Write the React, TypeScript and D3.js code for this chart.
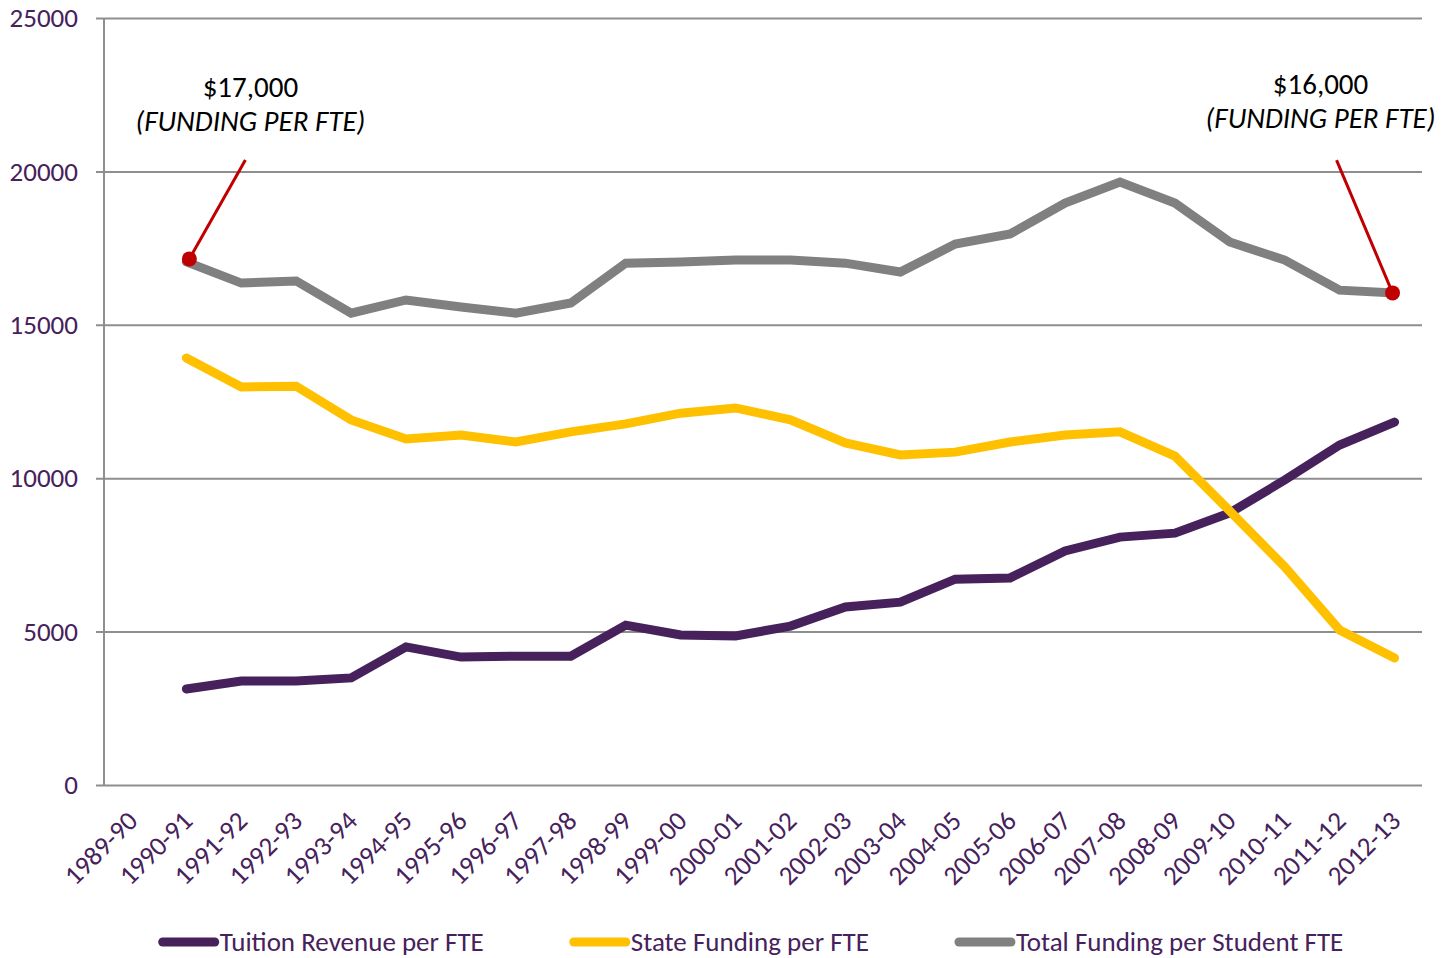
import React, { useRef, useEffect } from 'react';
import * as d3 from 'd3';

const years = [
  '1989-90', '1990-91', '1991-92', '1992-93', '1993-94', '1994-95', '1995-96', '1996-97',
  '1997-98', '1998-99', '1999-00', '2000-01', '2001-02', '2002-03', '2003-04', '2004-05',
  '2005-06', '2006-07', '2007-08', '2008-09', '2009-10', '2010-11', '2011-12', '2012-13',
];

// 1989-90 has no values
const tuition = [
  null, 3130, 3390, 3390, 3490, 4500, 4170, 4200, 4200, 5210, 4890, 4860,
  5180, 5800, 5960, 6710, 6750, 7630, 8080, 8210, 8870, 9940, 11080, 11830,
];
const stateFunding = [
  null, 13920, 12970, 13000, 11900, 11280, 11410, 11180, 11510, 11770, 12120, 12290,
  11900, 11150, 10760, 10850, 11180, 11410, 11510, 10720, 8930, 7110, 5050, 4140,
];
const totalFunding = [
  null, 17050, 16360, 16430, 15380, 15810, 15580, 15380, 15710, 17010, 17050, 17110,
  17110, 17010, 16720, 17630, 17960, 18970, 19650, 18970, 17700, 17110, 16130, 16040,
];

const yTicks = [0, 5000, 10000, 15000, 20000, 25000];

const seriesNames = ['Tuition Revenue per FTE', 'State Funding per FTE', 'Total Funding per Student FTE'];
const seriesColors = ['#46215b', '#ffc000', '#808080'];

const calloutYears = ['1990-91', '2012-13'];
const calloutAmounts = ['$17,000', '$16,000'];
const calloutNote = '(FUNDING PER FTE)';

const FONT = 'Carlito, Calibri, Lato, sans-serif';
const TEXT = '#46215b';
const AXIS = '#8e8e8e';

export default function App() {
  const svgRef = useRef<SVGSVGElement>(null);

  useEffect(() => {
    if (!svgRef.current) return;
    const svg = d3.select(svgRef.current);
    svg.selectAll('*').remove();

    const width = 1443;
    const height = 958;
    const margin = { top: 18, right: 21, bottom: 173, left: 104 };

    const x = d3.scaleBand()
      .domain(years)
      .range([margin.left, width - margin.right]);

    const y = d3.scaleLinear()
      .domain([0, 25000])
      .range([height - margin.bottom, margin.top]);

    const cx = (d: string) => (x(d) || 0) + x.bandwidth() / 2;

    // grid lines + y labels
    svg.append('g')
      .attr('transform', `translate(${margin.left},0)`)
      .call(d3.axisLeft(y).tickValues(yTicks).tickSize(8).tickPadding(18).tickFormat(d3.format('d')))
      .call(g => g.select('.domain').remove())
      .call(g => g.selectAll('.tick line')
        .attr('stroke', AXIS)
        .attr('stroke-width', 2)
        .attr('x2', width - margin.right - margin.left))
      .call(g => g.selectAll('.tick line').attr('x1', -8))
      .call(g => g.selectAll('.tick text')
        .attr('fill', TEXT)
        .style('font-size', '27px')
        .style('font-family', FONT));

    // y axis line
    svg.append('line')
      .attr('x1', margin.left).attr('x2', margin.left)
      .attr('y1', y(25000)).attr('y2', y(0))
      .attr('stroke', AXIS).attr('stroke-width', 2);

    // x axis labels (no tick marks)
    svg.append('g')
      .selectAll('text')
      .data(years)
      .enter()
      .append('text')
      .attr('transform', d => `translate(${cx(d) + 1},${y(0) + 31}) rotate(-45)`)
      .attr('text-anchor', 'end')
      .attr('dy', '0.35em')
      .attr('fill', TEXT)
      .style('font-size', '27px')
      .style('font-family', FONT)
      .text(d => d);

    // lines
    const allSeries = [tuition, stateFunding, totalFunding];
    const line = d3.line<number | null>()
      .defined(d => d != null)
      .x((_, i) => cx(years[i]))
      .y(d => y(d as number));

    allSeries.forEach((values, i) => {
      svg.append('path')
        .datum(values)
        .attr('d', line)
        .attr('fill', 'none')
        .attr('stroke', seriesColors[i])
        .attr('stroke-width', 9)
        .attr('stroke-linecap', 'round')
        .attr('stroke-linejoin', 'miter');
    });

    // callouts on total funding
    const calloutTop = y(20370);
    calloutYears.forEach((yr, i) => {
      const idx = years.indexOf(yr);
      const px = cx(yr) + (i === 0 ? 3 : -2);
      const py = y(totalFunding[idx] as number) - (i === 0 ? 3 : 0);
      const dir = i === 0 ? 1 : -1;
      const lx = px + dir * 56;
      const tx = px + (i === 0 ? 61 : -72);
      svg.append('line')
        .attr('x1', px).attr('y1', py)
        .attr('x2', lx).attr('y2', calloutTop)
        .attr('stroke', '#c00000').attr('stroke-width', 3);
      svg.append('circle')
        .attr('cx', px).attr('cy', py).attr('r', 7.5)
        .attr('fill', '#c00000');
      svg.append('text')
        .attr('x', tx).attr('y', calloutTop - 63 - i * 3)
        .attr('text-anchor', 'middle')
        .attr('fill', '#000')
        .style('font-size', '29px')
        .style('font-family', FONT)
        .text(calloutAmounts[i]);
      svg.append('text')
        .attr('x', tx).attr('y', calloutTop - 29 - i * 3)
        .attr('text-anchor', 'middle')
        .attr('fill', '#000')
        .style('font-size', '29px')
        .style('font-style', 'italic')
        .style('font-family', FONT)
        .text(calloutNote);
    });

    // legend
    const legendY = 942;
    const legend = svg.append('g');
    const items = seriesNames.map((name, i) => {
      const g = legend.append('g');
      g.append('line')
        .attr('x1', 4).attr('x2', 56)
        .attr('y1', 0).attr('y2', 0)
        .attr('stroke', seriesColors[i])
        .attr('stroke-width', 9)
        .attr('stroke-linecap', 'round');
      const t = g.append('text')
        .attr('x', 61)
        .attr('dy', '0.35em')
        .attr('fill', TEXT)
        .style('font-size', '27px')
        .style('font-family', FONT)
        .text(name);
      const w = 61 + ((t.node() as SVGTextElement).getComputedTextLength?.() || 0);
      return { g, w };
    });
    const gap = 86;
    const total = d3.sum(items, d => d.w) + gap * (items.length - 1);
    let start = 751 - total / 2;
    items.forEach(it => {
      it.g.attr('transform', `translate(${start},${legendY})`);
      start += it.w + gap;
    });
  }, []);

  return (
    <svg
      ref={svgRef}
      width={1443}
      height={958}
      style={{ position: 'absolute', left: 0, top: 0, background: '#fff' }}
    />
  );
}
